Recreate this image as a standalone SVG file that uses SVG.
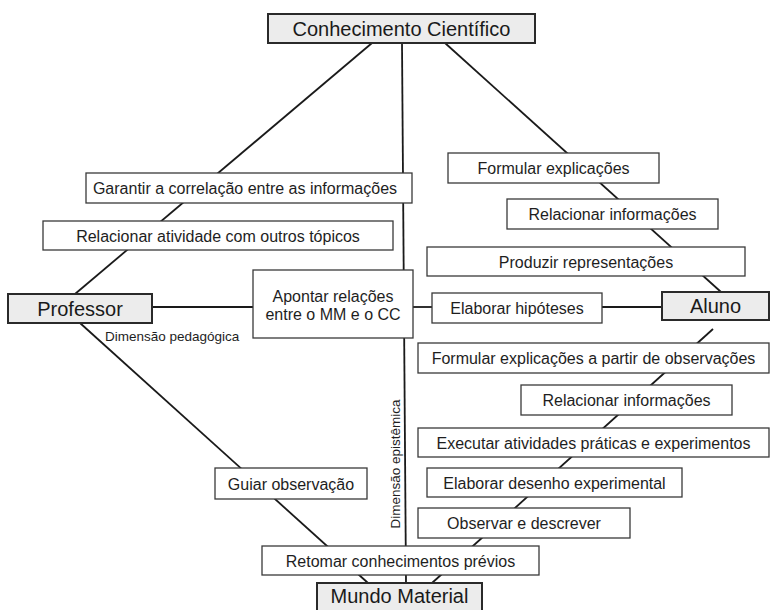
<svg xmlns="http://www.w3.org/2000/svg" width="771" height="610" viewBox="0 0 771 610">
<style>
.bg{fill:#ffffff}
.box{fill:#ffffff;stroke:#3a3a3a;stroke-width:1.3}
.main{fill:#ececec;stroke:#2a2a2a;stroke-width:2}
.t{font-family:"Liberation Sans",Arial,sans-serif;font-size:16px;fill:#1e1e1e;text-anchor:middle}
.tm{font-family:"Liberation Sans",Arial,sans-serif;font-size:20px;fill:#1a1a1a;text-anchor:middle}
.ts{font-family:"Liberation Sans",Arial,sans-serif;font-size:13.5px;fill:#1e1e1e}
.ln{stroke:#1a1a1a;stroke-width:1.8;fill:none}
</style>
<rect class="bg" x="0" y="0" width="771" height="610"/>
<g id="connectors">
<line class="ln" x1="372" y1="43" x2="75" y2="294"/>
<line class="ln" x1="402" y1="43" x2="406" y2="583"/>
<line class="ln" x1="445" y1="43" x2="721" y2="292"/>
<line class="ln" x1="152" y1="307" x2="253" y2="307"/>
<line class="ln" x1="413" y1="307" x2="432" y2="307"/>
<line class="ln" x1="602" y1="307" x2="662" y2="307"/>
<line class="ln" x1="80" y1="323" x2="368" y2="583"/>
<line class="ln" x1="713" y1="329" x2="432" y2="583"/>
</g>
<g id="conhecimento-cientifico"><rect class="main" x="268" y="14" width="267" height="29"/><text class="tm" x="401.5" y="36">Conhecimento Científico</text></g>
<g id="professor"><rect class="main" x="8" y="294" width="144" height="29"/><text class="tm" x="80" y="315.5">Professor</text></g>
<g id="aluno"><rect class="main" x="662" y="292" width="107" height="28"/><text class="tm" x="715.5" y="313">Aluno</text></g>
<g id="mundo-material"><rect class="main" x="317" y="583" width="165" height="32"/><text class="tm" x="399.5" y="603">Mundo Material</text></g>
<g id="garantir"><rect class="box" x="86" y="173" width="326" height="30"/><text class="t" x="245" y="194">Garantir a correlação entre as informações</text></g>
<g id="relacionar-atividade"><rect class="box" x="43" y="221" width="350" height="29"/><text class="t" x="218" y="241.5">Relacionar atividade com outros tópicos</text></g>
<g id="apontar"><rect class="box" x="253" y="270" width="160" height="68"/><text class="t" x="333" y="302">Apontar relações</text><text class="t" x="333" y="320">entre o MM e o CC</text></g>
<g id="formular-explicacoes"><rect class="box" x="448" y="153" width="211" height="30"/><text class="t" x="553.5" y="174">Formular explicações</text></g>
<g id="relacionar-informacoes-1"><rect class="box" x="507" y="199" width="211" height="30"/><text class="t" x="612.5" y="220">Relacionar informações</text></g>
<g id="produzir"><rect class="box" x="427" y="247" width="318" height="29"/><text class="t" x="586" y="267.5">Produzir representações</text></g>
<g id="elaborar-hipoteses"><rect class="box" x="432" y="293" width="170" height="30"/><text class="t" x="517" y="314">Elaborar hipóteses</text></g>
<g id="formular-partir"><rect class="box" x="418" y="343" width="351" height="30"/><text class="t" x="593.5" y="364">Formular explicações a partir de observações</text></g>
<g id="relacionar-informacoes-2"><rect class="box" x="521" y="385" width="211" height="30"/><text class="t" x="626.5" y="406">Relacionar informações</text></g>
<g id="executar"><rect class="box" x="418" y="428" width="351" height="29"/><text class="t" x="593.5" y="448.5">Executar atividades práticas e experimentos</text></g>
<g id="elaborar-desenho"><rect class="box" x="427" y="468" width="255" height="29"/><text class="t" x="554.5" y="488.5">Elaborar desenho experimental</text></g>
<g id="observar"><rect class="box" x="418" y="508" width="212" height="30"/><text class="t" x="524" y="529">Observar e descrever</text></g>
<g id="guiar"><rect class="box" x="215" y="468" width="152" height="31"/><text class="t" x="291" y="489.5">Guiar observação</text></g>
<g id="retomar"><rect class="box" x="262" y="546" width="277" height="29"/><text class="t" x="400.5" y="566.5">Retomar conhecimentos prévios</text></g>
<g id="labels">
<text class="ts" x="105" y="341">Dimensão pedagógica</text>
<text class="ts" x="400" y="464" text-anchor="middle" transform="rotate(-90 400 464)">Dimensão epistêmica</text>
</g>
</svg>
